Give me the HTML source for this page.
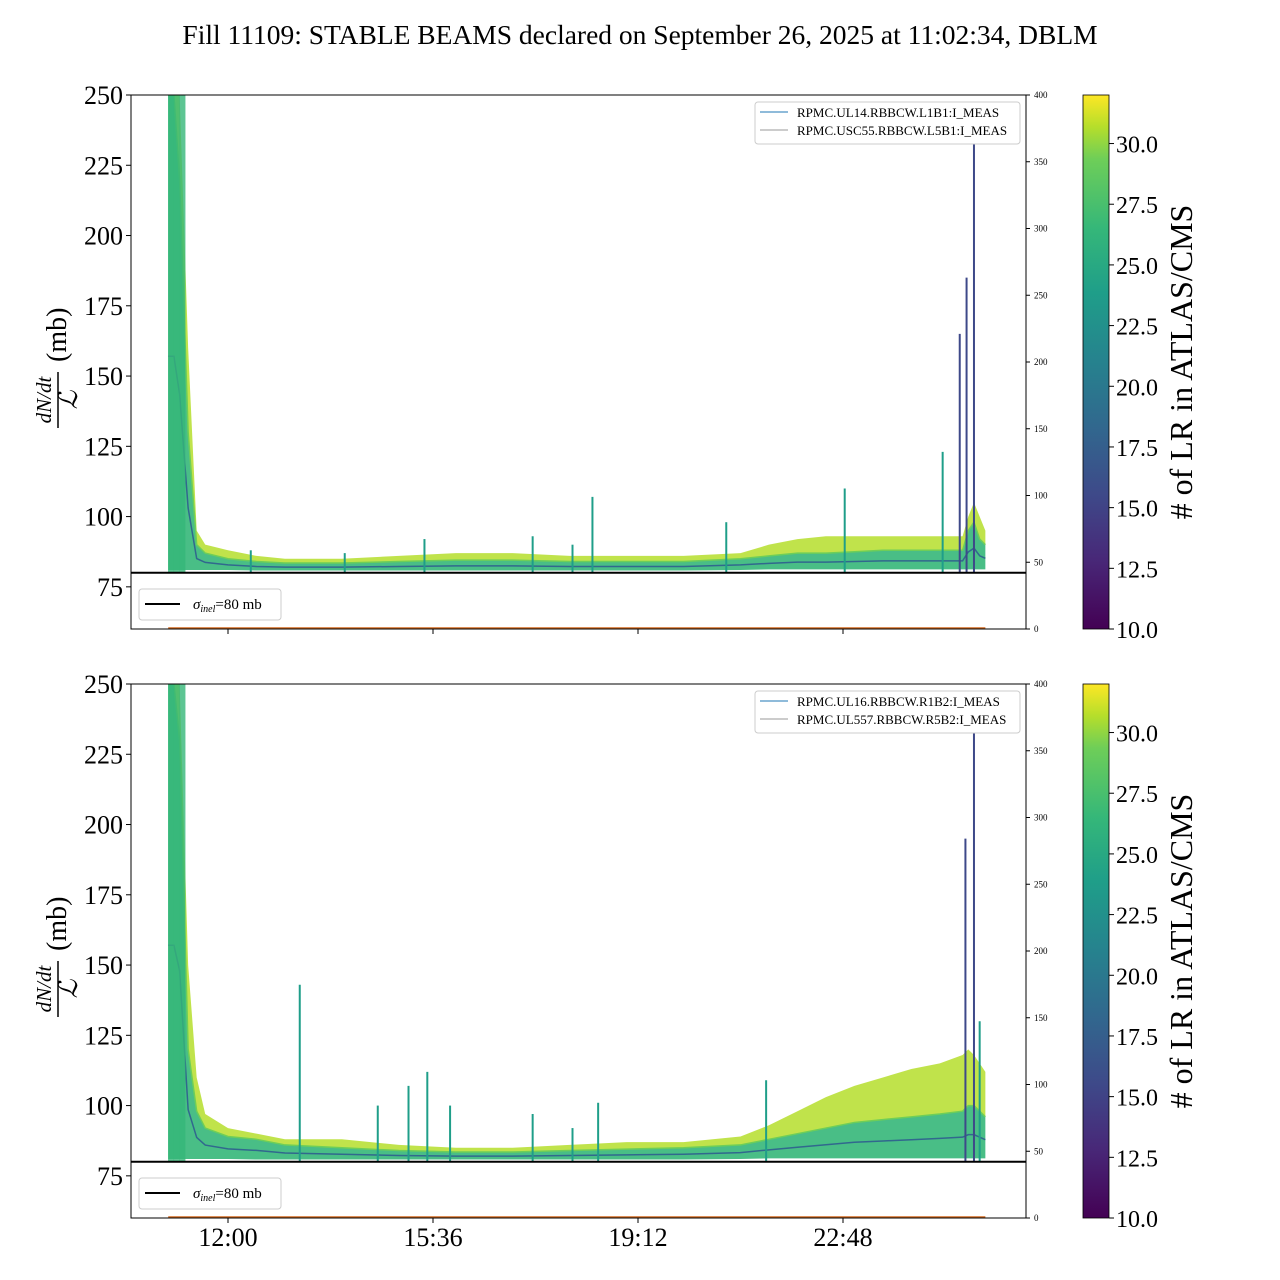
<!DOCTYPE html>
<html><head><meta charset="utf-8"><style>
html,body{margin:0;padding:0;background:#fff;}
svg{display:block;font-family:"Liberation Serif",serif;}
</style></head><body>
<svg id="chart" width="1280" height="1280" viewBox="0 0 1280 1280" xmlns="http://www.w3.org/2000/svg">
<defs>
<linearGradient id="viridis" x1="0" y1="1" x2="0" y2="0">
<stop offset="0" stop-color="#440154"/><stop offset="0.13" stop-color="#482878"/><stop offset="0.25" stop-color="#3e4989"/><stop offset="0.38" stop-color="#31688e"/><stop offset="0.5" stop-color="#26828e"/><stop offset="0.63" stop-color="#1f9e89"/><stop offset="0.75" stop-color="#35b779"/><stop offset="0.88" stop-color="#6ece58"/><stop offset="0.94" stop-color="#b5de2b"/><stop offset="1" stop-color="#fde725"/>
</linearGradient>
</defs>
<text x="640" y="44" text-anchor="middle" font-size="27.5">Fill 11109: STABLE BEAMS declared on September 26, 2025 at 11:02:34, DBLM</text>
<g id="panels"></g>
</svg>
<script>
const hours = [10.95,11.05,11.15,11.3,11.45,11.6,12,12.5,13,14,15,16,17,18,19,20,21,21.5,22,22.5,23,23.5,24,24.5,24.9,25.0,25.1,25.2,25.3];
const topUpper = [250,250,250,160,95,90,88,86,85,85,86,87,87,86,86,86,87,90,92,93,93,93,93,93,93,100,105,100,95];
const topMid = [250,250,220,130,90,87,85,84,83.5,83.5,84,84.5,84.5,84,84,84,85,86,87,87,87.5,88,88,88,88,95,98,92,90];
const topLower = [81,81,81,81,81,81,81,80.8,80.8,80.8,80.8,80.8,80.8,80.8,80.8,80.8,81,81.2,81.2,81.2,81.2,81.2,81.2,81.2,81.2,81.2,81.2,81.2,81.2];
const botUpper = [250,250,250,150,110,97,92,90,88,88,86,85,85,86,87,87,89,93,98,103,107,110,113,115,118,120,118,115,112];
const botMid = [250,250,230,120,98,92,89,88,86,85,84,83.5,83.5,84,84.5,85,86,88,90,92,94,95,96,97,98,100,100,98,96];
const botLower = [81,81,81,81,81,81,81,80.8,80.8,80.8,80.8,80.8,80.8,80.8,80.8,80.8,81,81.2,81.2,81.2,81.2,81.2,81.2,81.2,81.2,81.2,81.2,81.2,81.2];
const topSpikeHours = [12.4,14.05,15.45,17.35,18.05,18.4,20.75,22.83,24.55,24.85,24.97,25.1];
const topSpikeValues = [88,87,92,93,90,107,98,110,123,165,185,235];
const botSpikeHours = [13.26,14.63,15.17,15.5,15.9,17.35,18.05,18.5,21.45,24.95,25.1,25.2];
const botSpikeValues = [143,100,107,112,100,97,92,101,109,195,235,130];
const yTicks = [75,100,125,150,175,200,225,250];
const rightTicks = [0,50,100,150,200,250,300,350,400];
const cbTicks = [10,12.5,15,17.5,20,22.5,25,27.5,30];
const xTickHours = [12,15.6,19.2,22.8];
const xTickLabels = ["12:00","15:36","19:12","22:48"];

const NS="http://www.w3.org/2000/svg";
const root=document.getElementById('panels');
function mk(tag,attrs,parent,text){const e=document.createElementNS(NS,tag);for(const k in attrs)e.setAttribute(k,attrs[k]);if(text!==undefined)e.textContent=text;(parent||root).appendChild(e);return e;}
const X0=131,X1=1026;
const xs=h=>228+(h-12)*205/3.6;

function panel(top,upper,mid,lower,spH,spV,legendLabels,idx,showX){
  const bot=top+534;
  const ys=v=>bot-(Math.max(60,Math.min(250,v))-60)*(534/190);
  const g=mk('g',{});
  
  
  const clip=mk('clipPath',{id:'clip'+idx},g);mk('rect',{x:X0,y:top,width:X1-X0,height:534},clip);
  const d=mk('g',{'clip-path':'url(#clip'+idx+')'},g);
  function area(a,b,fill,op,name){
    let p='M'+hours.map((h,i)=>xs(h)+','+ys(a[i])).join('L');
    for(let i=hours.length-1;i>=0;i--)p+='L'+xs(hours[i])+','+ys(b[i]);
    const e=mk('path',{d:p+'Z',fill:fill,opacity:op},d);
    
    
  }
  function line(a,col,w,name){
    const e=mk('polyline',{points:hours.map((h,i)=>xs(h)+','+ys(a[i])).join(' '),fill:'none',stroke:col,'stroke-width':w},d);
    
    
  }
  area(upper,mid,'#b5de2b',0.85,'band-upper');
  area(mid,lower,'#35b779',0.9,'band-lower');
  line(mid,'#6ece58',1.5,'median-line');
  line(lower.map((v,i)=>v+(mid[i]-v)*0.45),'#31688e',1.5,'low-lr-line');
  spH.forEach((h,i)=>{
    const e=mk('line',{x1:xs(h),x2:xs(h),y1:ys(80),y2:ys(spV[i]),stroke:spV[i]>150?'#3e4989':'#1f9e89','stroke-width':2},d);
    
    
  });
  [11.0,11.1,11.2].forEach(h=>{const e=mk('line',{x1:xs(h),x2:xs(h),y1:ys(80),y2:ys(250),stroke:'#35b779','stroke-width':6,opacity:0.8},d);});
  const ol=mk('line',{x1:xs(10.95),x2:xs(25.3),y1:bot-1,y2:bot-1,stroke:'#d2691e','stroke-width':1.5},d);
  
  const ref=mk('line',{x1:X0,x2:X1,y1:ys(80),y2:ys(80),stroke:'#000','stroke-width':2},g);
  
  const fr=mk('rect',{x:X0,y:top,width:X1-X0,height:534,fill:'none',stroke:'#000','stroke-width':1},g);
  
  yTicks.forEach(v=>{mk('line',{x1:X0-5,x2:X0,y1:ys(v),y2:ys(v),stroke:'#000'},g);
    const t=mk('text',{x:X0-8,y:ys(v)+9,'text-anchor':'end','font-size':26},g,String(v));});
  rightTicks.forEach(v=>{const y=bot-v*534/400;mk('line',{x1:X1,x2:X1+4,y1:y,y2:y,stroke:'#000'},g);
    const t=mk('text',{x:X1+8,y:y+3,'font-size':9},g,String(v));});
  xTickHours.forEach((h,i)=>{mk('line',{x1:xs(h),x2:xs(h),y1:bot,y2:bot+5,stroke:'#000'},g);
    if(showX){const t=mk('text',{x:xs(h),y:bot+28,'text-anchor':'middle','font-size':26},g,xTickLabels[i]);}});
  const yl=mk('g',{transform:'translate(58,'+(top+267)+') rotate(-90)'},g);
  
  mk('text',{x:-38,y:-7,'text-anchor':'middle','font-size':21,'font-style':'italic'},yl,'dN/dt');
  mk('line',{x1:-66,x2:-10,y1:0,y2:0,stroke:'#000','stroke-width':1.5},yl);
  mk('text',{x:-38,y:19,'text-anchor':'middle','font-size':26,'font-style':'italic'},yl,'ℒ');
  mk('text',{x:0,y:8,'font-size':28},yl,'(mb)');
  const lg=mk('g',{},g);
  mk('rect',{x:755,y:top+7,width:265,height:42,rx:3,fill:'#fff',stroke:'#ccc'},lg);
  mk('line',{x1:760,x2:788,y1:top+17,y2:top+17,stroke:'#1f77b4','stroke-width':1},lg);
  mk('text',{x:797,y:top+22,'font-size':13},lg,legendLabels[0]);
  mk('line',{x1:760,x2:788,y1:top+35,y2:top+35,stroke:'#999','stroke-width':1},lg);
  mk('text',{x:797,y:top+40,'font-size':13},lg,legendLabels[1]);
  const sl=mk('g',{},g);
  mk('rect',{x:139,y:top+494,width:142,height:31,rx:3,fill:'#fff',stroke:'#ccc'},sl);
  mk('line',{x1:145,x2:180,y1:top+509,y2:top+509,stroke:'#000','stroke-width':2},sl);
  const st=mk('text',{x:193,y:top+514,'font-size':15},sl);
  mk('tspan',{'font-style':'italic'},st,'σ');mk('tspan',{'font-style':'italic','font-size':10,dy:3},st,'inel');mk('tspan',{dy:-3},st,'=80 mb');
  const cb=mk('g',{},g);
  mk('rect',{x:1083,y:top,width:26,height:534,fill:'url(#viridis)',stroke:'#000','stroke-width':0.8},cb);
  cbTicks.forEach(v=>{const y=bot-(v-10)*534/22;mk('line',{x1:1109,x2:1114,y1:y,y2:y,stroke:'#000'},cb);
    const t=mk('text',{x:1116,y:y+9,'font-size':24},cb,v.toFixed(1));});
  const ct=mk('text',{transform:'translate(1192,'+(top+267)+') rotate(-90)','text-anchor':'middle','font-size':32},cb,'# of LR in ATLAS/CMS');
  
}
panel(95,topUpper,topMid,topLower,topSpikeHours,topSpikeValues,['RPMC.UL14.RBBCW.L1B1:I_MEAS','RPMC.USC55.RBBCW.L5B1:I_MEAS'],'top',false);
panel(684,botUpper,botMid,botLower,botSpikeHours,botSpikeValues,['RPMC.UL16.RBBCW.R1B2:I_MEAS','RPMC.UL557.RBBCW.R5B2:I_MEAS'],'bottom',true);
</script>
</body></html>
